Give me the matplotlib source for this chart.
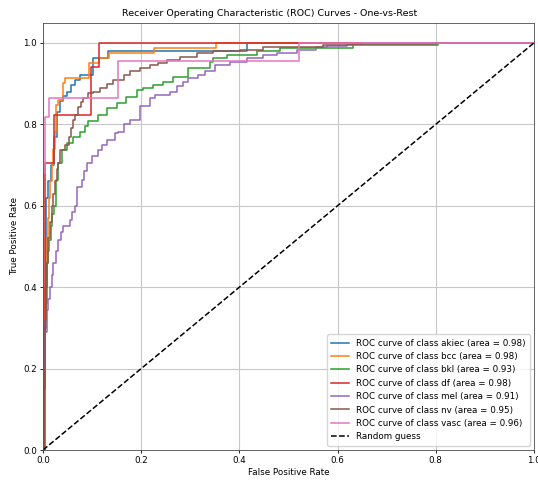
import numpy as np
import matplotlib
matplotlib.use("Agg")
import matplotlib.pyplot as plt

# class names and AUC values shown in the legend
classes = ['akiec', 'bcc', 'bkl', 'df', 'mel', 'nv', 'vasc']
auc_vals = [0.98, 0.98, 0.93, 0.98, 0.91, 0.95, 0.96]
colors = ['#1f77b4', '#ff7f0e', '#2ca02c', '#d62728', '#9467bd', '#8c564b', '#e377c2']

# ROC points (fpr, tpr), drawn as steps
fpr_akiec = [0, 0.003, 0.006, 0.010, 0.016, 0.022, 0.028, 0.034, 0.040, 0.048, 0.058, 0.066, 0.075, 0.102, 0.133, 0.415, 1.0]
tpr_akiec = [0, 0.30, 0.62, 0.66, 0.70, 0.77, 0.83, 0.856, 0.87, 0.88, 0.897, 0.909, 0.921, 0.962, 0.981, 1.0, 1.0]

fpr_bcc = [0, 0.002, 0.004, 0.006, 0.008, 0.010, 0.012, 0.014, 0.018, 0.021, 0.024, 0.026, 0.030, 0.040, 0.045, 0.094, 0.115, 0.134, 0.226, 0.352, 1.0]
tpr_bcc = [0, 0.25, 0.40, 0.47, 0.52, 0.57, 0.62, 0.66, 0.70, 0.74, 0.78, 0.848, 0.86, 0.902, 0.913, 0.95, 0.962, 0.975, 0.987, 1.0, 1.0]

fpr_bkl = [0, 0.002, 0.004, 0.006, 0.008, 0.009, 0.011, 0.013, 0.016, 0.019, 0.022, 0.026, 0.031, 0.038, 0.048, 0.062, 0.075, 0.086, 0.092, 0.113, 0.13, 0.15, 0.17, 0.191, 0.204, 0.225, 0.245, 0.265, 0.296, 0.34, 0.347, 0.374, 0.435, 0.483, 0.632, 0.805, 1.0]
tpr_bkl = [0, 0.20, 0.30, 0.36, 0.42, 0.46, 0.49, 0.516, 0.55, 0.58, 0.60, 0.663, 0.705, 0.737, 0.754, 0.77, 0.782, 0.795, 0.807, 0.823, 0.84, 0.852, 0.868, 0.885, 0.889, 0.897, 0.905, 0.917, 0.938, 0.954, 0.962, 0.971, 0.979, 0.987, 0.995, 1.0, 1.0]

fpr_df = [0, 0.004, 0.022, 0.097, 0.115, 0.52, 1.0]
tpr_df = [0, 0.706, 0.824, 0.941, 1.0, 1.0, 1.0]

fpr_mel = [0, 0.001, 0.004, 0.0075, 0.010, 0.014, 0.018, 0.021, 0.026, 0.031, 0.036, 0.041, 0.055, 0.060, 0.065, 0.069, 0.079, 0.084, 0.089, 0.099, 0.113, 0.12, 0.13, 0.147, 0.153, 0.165, 0.177, 0.198, 0.218, 0.228, 0.259, 0.272, 0.286, 0.296, 0.315, 0.33, 0.35, 0.381, 0.415, 0.449, 0.476, 0.517, 0.557, 0.578, 0.62, 0.65, 1.0]
tpr_mel = [0, 0.20, 0.29, 0.344, 0.37, 0.40, 0.43, 0.46, 0.49, 0.516, 0.535, 0.549, 0.565, 0.585, 0.60, 0.647, 0.663, 0.685, 0.704, 0.721, 0.737, 0.75, 0.762, 0.778, 0.782, 0.80, 0.811, 0.845, 0.864, 0.872, 0.88, 0.893, 0.905, 0.913, 0.922, 0.93, 0.946, 0.954, 0.962, 0.969, 0.975, 0.983, 0.989, 0.993, 0.997, 1.0, 1.0]

fpr_nv = [0, 0.002, 0.004, 0.006, 0.008, 0.011, 0.014, 0.018, 0.021, 0.024, 0.028, 0.031, 0.035, 0.045, 0.052, 0.058, 0.062, 0.066, 0.072, 0.078, 0.082, 0.092, 0.102, 0.116, 0.13, 0.143, 0.164, 0.177, 0.198, 0.218, 0.235, 0.252, 0.279, 0.313, 0.347, 0.401, 0.449, 0.496, 0.571, 0.63, 0.80, 1.0]
tpr_nv = [0, 0.15, 0.32, 0.40, 0.46, 0.52, 0.56, 0.60, 0.63, 0.66, 0.69, 0.705, 0.737, 0.75, 0.77, 0.79, 0.81, 0.823, 0.843, 0.855, 0.864, 0.876, 0.88, 0.889, 0.90, 0.909, 0.921, 0.93, 0.938, 0.945, 0.95, 0.958, 0.966, 0.975, 0.979, 0.983, 0.989, 0.991, 0.995, 0.997, 1.0, 1.0]

fpr_vasc = [0, 0, 0.004, 0.013, 0.153, 0.522, 1.0]
tpr_vasc = [0, 0.68, 0.818, 0.864, 0.955, 1.0, 1.0]

fprs = [fpr_akiec, fpr_bcc, fpr_bkl, fpr_df, fpr_mel, fpr_nv, fpr_vasc]
tprs = [tpr_akiec, tpr_bcc, tpr_bkl, tpr_df, tpr_mel, tpr_nv, tpr_vasc]

fig = plt.figure(figsize=(5.38, 4.82), dpi=100)
ax = fig.add_axes([43/538, 32/482, 491/538, 427.5/482])

for i in range(len(classes)):
    ax.plot(fprs[i], tprs[i], color=colors[i], lw=1.1, drawstyle='steps-post',
            label='ROC curve of class %s (area = %.2f)' % (classes[i], auc_vals[i]))

ax.plot([0, 1], [0, 1], 'k--', lw=1.1, label='Random guess')

ax.set_xlim(0.0, 1.0)
ax.set_ylim(0.0, 1.05)
ax.set_xlabel('False Positive Rate', fontsize=6.3, labelpad=2)
ax.set_ylabel('True Positive Rate', fontsize=6.3, labelpad=3)
ax.set_title('Receiver Operating Characteristic (ROC) Curves - One-vs-Rest', fontsize=6.8, pad=5,
             x=(270 - 43) / 491)
ax.tick_params(labelsize=6.3, length=2.5, width=0.6, pad=2)
for s in ax.spines.values():
    s.set_linewidth(0.6)
    s.set_color('0.3')
ax.grid(True, color='#c8c8c8', lw=0.8)
ax.legend(loc='lower right', fontsize=6.3, handlelength=2.0, borderpad=0.5, labelspacing=0.5)

fig.savefig('out.png', dpi=100)
